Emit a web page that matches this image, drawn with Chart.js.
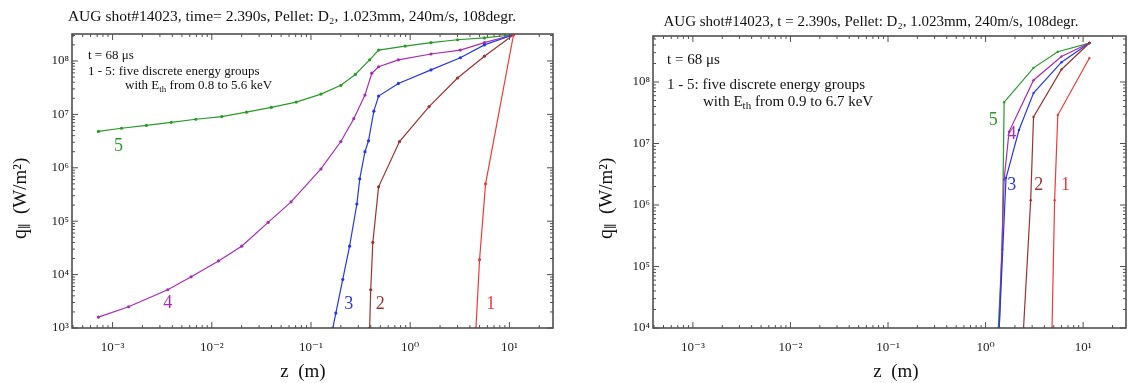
<!DOCTYPE html>
<html>
<head>
<meta charset="utf-8">
<script src="https://cdn.jsdelivr.net/npm/chart.js@4.4.1/dist/chart.umd.min.js"></script>
<style>
  body { margin: 0; background: #fff; overflow: hidden; }
  .panel { position: absolute; top: 0; width: 565px; height: 383px; }
</style>
</head>
<body>
<div class="panel" style="left:0"><canvas id="leftChart"></canvas></div>
<div class="panel" style="left:565px"><canvas id="rightChart"></canvas></div>
<script>
// ---- data: z (m) and q_par (W/m^2) for energy groups 1..5 ----
const groupNames = ['1', '2', '3', '4', '5'];
const groupColors = ['#f03a3a', '#9a3434', '#2838e0', '#a82cb4', '#2a9a2a'];

// left panel (time= 2.390s)
const leftZ1 = [4.6, 5.0, 5.75, 11.0];
const leftQ1 = [1.0e3, 1.9e4, 5.0e5, 3.1e8];
const leftZ2 = [0.39, 0.40, 0.42, 0.48, 0.78, 1.55, 3.0, 5.6, 11.0];
const leftQ2 = [1.0e3, 5.2e3, 4.0e4, 4.4e5, 3.1e6, 1.4e7, 4.8e7, 1.23e8, 3.1e8];
const leftZ3 = [0.166, 0.178, 0.209, 0.245, 0.29, 0.31, 0.35, 0.38, 0.43, 0.48, 0.76, 1.62, 3.2, 5.6, 11.0];
const leftQ3 = [1.0e3, 1.9e3, 8.1e3, 3.4e4, 2.1e5, 6.2e5, 2.0e6, 3.2e6, 1.15e7, 2.2e7, 3.8e7, 6.8e7, 1.15e8, 2.0e8, 3.1e8];
const leftZ4 = [7.2e-4, 1.45e-3, 3.6e-3, 6.2e-3, 1.17e-2, 2.0e-2, 3.7e-2, 6.3e-2, 0.126, 0.20, 0.27, 0.35, 0.41, 0.48, 0.76, 1.62, 3.2, 5.6, 11.0];
const leftQ4 = [1.6e3, 2.5e3, 5.2e3, 9.1e3, 1.8e4, 3.4e4, 9.5e4, 2.3e5, 9.5e5, 3.1e6, 8.3e6, 2.3e7, 5.9e7, 7.8e7, 1.05e8, 1.35e8, 1.6e8, 2.2e8, 3.1e8];
const leftZ5 = [7.2e-4, 1.23e-3, 2.19e-3, 3.9e-3, 6.9e-3, 1.26e-2, 2.24e-2, 3.98e-2, 7.1e-2, 0.126, 0.20, 0.28, 0.39, 0.48, 0.89, 1.62, 3.0, 5.6, 11.0];
const leftQ5 = [4.8e6, 5.5e6, 6.2e6, 7.1e6, 8.1e6, 9.1e6, 1.1e7, 1.35e7, 1.7e7, 2.4e7, 3.5e7, 5.6e7, 1.05e8, 1.6e8, 1.9e8, 2.2e8, 2.5e8, 2.7e8, 3.1e8];
const leftTagZ = [6.5, 0.50, 0.24, 3.6e-3, 1.15e-3];
const leftTagQ = [2.8e3, 2.8e3, 2.8e3, 2.9e3, 2.5e6];

// right panel (t = 2.390s)
const rightZ1 = [4.8, 5.1, 5.5, 11.6];
const rightQ1 = [1.0e4, 1.2e6, 2.9e7, 2.45e8];
const rightZ2 = [2.45, 2.9, 3.1, 6.0, 11.6];
const rightQ2 = [1.0e4, 1.2e6, 2.7e7, 1.6e8, 4.3e8];
const rightZ3 = [1.38, 1.62, 2.2, 3.1, 6.0, 11.6];
const rightQ3 = [1.0e4, 2.75e6, 1.66e7, 6.6e7, 2.1e8, 4.3e8];
const rightZ4 = [1.38, 1.55, 1.74, 3.1, 6.0, 11.6];
const rightQ4 = [1.0e4, 2.6e6, 1.55e7, 1.07e8, 2.6e8, 4.3e8];
const rightZ5 = [1.35, 1.48, 1.55, 3.1, 5.5, 11.6];
const rightQ5 = [1.0e4, 1.9e5, 4.7e7, 1.7e8, 3.1e8, 4.3e8];
const rightTagZ = [6.6, 3.5, 1.85, 1.85, 1.2];
const rightTagQ = [2.1e6, 2.1e6, 2.1e6, 1.4e7, 2.4e7];

// axis ticks
const zTicks = [1e-3, 1e-2, 1e-1, 1e0, 1e1];
const leftQTicks = [1e3, 1e4, 1e5, 1e6, 1e7, 1e8];
const rightQTicks = [1e4, 1e5, 1e6, 1e7, 1e8];

const SERIF = "'Liberation Serif', 'DejaVu Serif', serif";
const SUP = { '-': '\u207B', '0': '\u2070', '1': '\u00B9', '2': '\u00B2', '3': '\u00B3', '4': '\u2074',
  '5': '\u2075', '6': '\u2076', '7': '\u2077', '8': '\u2078', '9': '\u2079' };
function powLabel(v) {
  const e = String(Math.round(Math.log10(v)));
  return '10' + e.split('').map(c => SUP[c]).join('');
}

function pairs(zs, qs) {
  return zs.map((z, i) => ({ x: z, y: qs[i] }));
}

// box, inward log ticks on all four sides, titles, curve numbers and notes
const decorPlugin = {
  id: 'decor',
  afterDatasetsDraw(chart, args, opts) {
    const { ctx, chartArea: a, scales: { x, y } } = chart;
    ctx.save();
    ctx.strokeStyle = '#505050';
    ctx.lineWidth = 1.6;
    ctx.strokeRect(a.left, a.top, a.right - a.left, a.bottom - a.top);

    const logVals = (s) => {
      const out = [];
      for (let e = Math.floor(Math.log10(s.min)); e <= Math.ceil(Math.log10(s.max)); e++) {
        for (let m = 1; m < 10; m++) {
          const v = m * Math.pow(10, e);
          if (v >= s.min && v <= s.max) out.push([v, m === 1]);
        }
      }
      return out;
    };
    ctx.lineWidth = 1;
    ctx.beginPath();
    logVals(x).forEach(([v, major]) => {
      const px = x.getPixelForValue(v), len = major ? 6 : 3;
      ctx.moveTo(px, a.bottom); ctx.lineTo(px, a.bottom - len);
      ctx.moveTo(px, a.top); ctx.lineTo(px, a.top + len);
    });
    logVals(y).forEach(([v, major]) => {
      const py = y.getPixelForValue(v), len = major ? 6 : 3;
      ctx.moveTo(a.left, py); ctx.lineTo(a.left + len, py);
      ctx.moveTo(a.right, py); ctx.lineTo(a.right - len, py);
    });
    ctx.stroke();

    // curve numbers
    ctx.font = '18px ' + SERIF;
    ctx.textAlign = 'center';
    ctx.textBaseline = 'middle';
    opts.tagZ.forEach((z, i) => {
      ctx.fillStyle = groupColors[i];
      ctx.fillText(groupNames[i], x.getPixelForValue(z), y.getPixelForValue(opts.tagQ[i]));
    });

    ctx.fillStyle = '#111';

    // plot title
    ctx.font = opts.titleSize + 'px ' + SERIF;
    ctx.fillText(opts.title, opts.titleX, opts.titleY);

    // x axis title
    ctx.font = '19px ' + SERIF;
    ctx.fillText('z  (m)', opts.xTitleX, 372);

    // y axis title, rotated, q with subscript parallel sign
    ctx.save();
    ctx.translate(opts.yTitleX, 239);
    ctx.rotate(-Math.PI / 2);
    ctx.textAlign = 'left';
    ctx.font = '20px ' + SERIF;
    ctx.fillText('q', 0, 0);
    let tx = ctx.measureText('q').width;
    ctx.font = '13px ' + SERIF;
    ctx.fillText('\u2225', tx, 5);
    tx += ctx.measureText('\u2225').width + 9;
    ctx.font = '19px ' + SERIF;
    ctx.fillText('(W/m\u00B2)', tx, 0);
    ctx.restore();

    // notes
    ctx.textAlign = 'left';
    const f = opts.noteFont;
    ctx.font = f + 'px ' + SERIF;
    const lx = a.left + opts.noteX;
    ctx.fillText('t = 68 \u03BCs', lx, a.top + opts.noteY[0]);
    ctx.fillText('1 - 5: five discrete energy groups', lx, a.top + opts.noteY[1]);
    let wx = lx + opts.withIndent;
    const wy = a.top + opts.noteY[2];
    ctx.fillText('with E', wx, wy);
    wx += ctx.measureText('with E').width;
    ctx.font = Math.round(f * 0.7) + 'px ' + SERIF;
    ctx.fillText('th', wx, wy + f * 0.3);
    wx += ctx.measureText('th').width;
    ctx.font = f + 'px ' + SERIF;
    ctx.fillText(' from ' + opts.energyRange + ' keV', wx, wy);
    ctx.restore();
  }
};

function makeChart(id, cfg) {
  const datasets = cfg.series.map((s, i) => ({
    label: groupNames[i],
    data: pairs(s[0], s[1]),
    borderColor: groupColors[i],
    backgroundColor: groupColors[i],
    borderWidth: 1.2,
    pointRadius: cfg.pointRadius,
    pointBorderWidth: 0,
    tension: 0
  }));

  return new Chart(document.getElementById(id), {
    type: 'line',
    data: { datasets: datasets },
    plugins: [decorPlugin],
    options: {
      responsive: true,
      maintainAspectRatio: false,
      animation: false,
      layout: { padding: { left: 0, right: cfg.padRight, top: cfg.padTop, bottom: 0 } },
      plugins: {
        legend: { display: false },
        tooltip: { enabled: false },
        title: { display: false },
        decor: cfg.decor
      },
      scales: {
        x: {
          type: 'logarithmic',
          min: 3.9e-4,
          max: 27.5,
          grid: { display: false, drawTicks: false },
          border: { display: false },
          afterBuildTicks: (s) => { s.ticks = zTicks.map(v => ({ value: v })); },
          afterFit: (s) => { s.height = 55; s.paddingLeft = 0; s.paddingRight = 0; },
          ticks: {
            autoSkip: false, maxRotation: 0, padding: 12, color: '#222',
            font: { family: SERIF, size: 13 },
            callback: (v) => powLabel(v)
          }
        },
        y: {
          type: 'logarithmic',
          min: cfg.qMin,
          max: cfg.qMax,
          grid: { display: false, drawTicks: false },
          border: { display: false },
          afterBuildTicks: (s) => { s.ticks = cfg.qTicks.map(v => ({ value: v })); },
          afterFit: (s) => { s.width = cfg.yWidth; s.paddingTop = 0; s.paddingBottom = 0; },
          ticks: {
            autoSkip: false, padding: 3, color: '#222',
            font: { family: SERIF, size: 13 },
            callback: (v) => powLabel(v)
          }
        }
      }
    }
  });
}

makeChart('leftChart', {
  series: [[leftZ1, leftQ1], [leftZ2, leftQ2], [leftZ3, leftQ3], [leftZ4, leftQ4], [leftZ5, leftQ5]],
  qMin: 1e3, qMax: 3.2e8, qTicks: leftQTicks,
  yWidth: 72, padRight: 12, padTop: 34, pointRadius: 1.6,
  decor: {
    title: 'AUG shot#14023, time= 2.390s, Pellet: D\u2082, 1.023mm, 240m/s, 108degr.',
    titleSize: 15.5, titleX: 292, titleY: 17, xTitleX: 303, yTitleX: 21,
    tagZ: leftTagZ, tagQ: leftTagQ, noteX: 16, noteY: [22, 38, 52], noteFont: 13,
    withIndent: 37, energyRange: '0.8 to 5.6'
  }
});

makeChart('rightChart', {
  series: [[rightZ1, rightQ1], [rightZ2, rightQ2], [rightZ3, rightQ3], [rightZ4, rightQ4], [rightZ5, rightQ5]],
  qMin: 1e4, qMax: 5.6e8, qTicks: rightQTicks,
  yWidth: 88, padRight: 2, padTop: 36, pointRadius: 1.2,
  decor: {
    title: 'AUG shot#14023, t = 2.390s, Pellet: D\u2082, 1.023mm, 240m/s, 108degr.',
    titleSize: 15, titleX: 306, titleY: 22, xTitleX: 331, yTitleX: 42,
    tagZ: rightTagZ, tagQ: rightTagQ, noteX: 14, noteY: [24, 49, 66], noteFont: 15,
    withIndent: 36, energyRange: '0.9 to 6.7'
  }
});
</script>
</body>
</html>
